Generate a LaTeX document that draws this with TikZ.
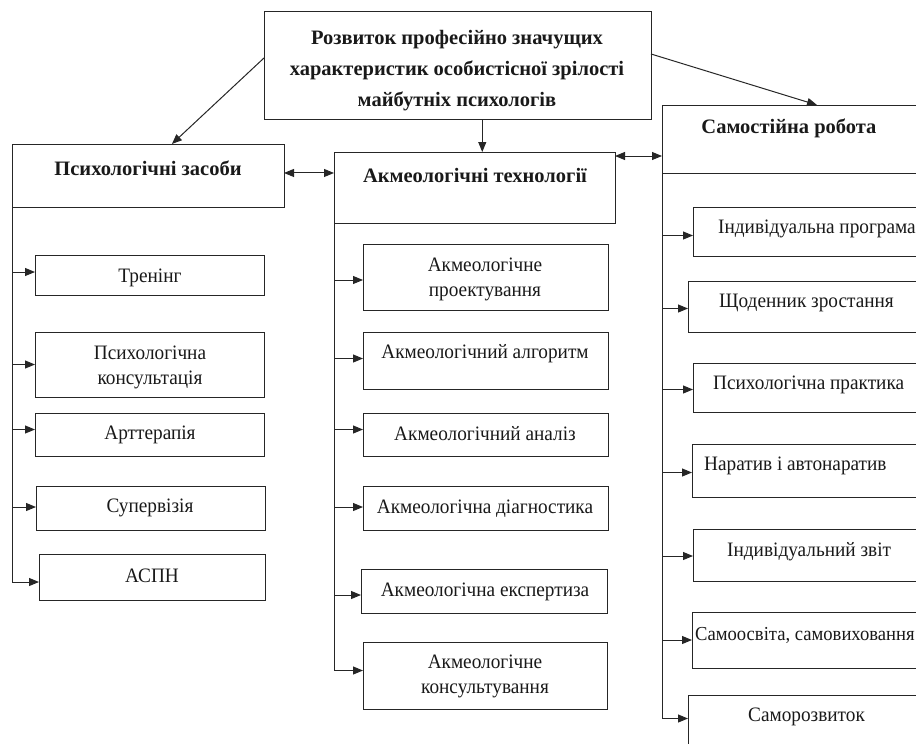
\documentclass[tikz,border=0pt]{standalone}
\usepackage{fontspec}
\setmainfont{Liberation Serif}
\newfontfamily\regfont[FakeStretch=0.94]{Liberation Serif}
\usetikzlibrary{arrows.meta,calc}
\tikzset{
 box/.style={draw=black!85, line width=1pt, rectangle, inner sep=0pt, outer sep=0pt},
 lbl/.style={font=\regfont\fontsize{20.5}{25}\selectfont, inner sep=0pt, align=center, text=black!90, yshift=-2pt},
 blbl/.style={lbl, font=\rmfamily\fontsize{20.5}{31}\selectfont\bfseries},
 rlbl/.style={lbl, anchor=west},
 ln/.style={line width=1pt, draw=black!85},
 arr/.style={ln, -{Triangle[length=10pt,width=8pt]}},
 darr/.style={ln, {Triangle[length=10pt,width=8pt]}-{Triangle[length=10pt,width=8pt]}},
}
\newcommand\rbox[5]{\node[box, minimum width={(#4-#2)*1pt}, minimum height={(#5-#3)*1pt}] (#1) at ({(#2+#4)/2},{(#3+#5)/2}) {};}
\newcommand\brarr[3]{\path ($(#2.west)+(0,#3)$) coordinate (tmp); \draw[arr] (tmp -| #1.west) -- (tmp);}
\begin{document}
\begin{tikzpicture}[x=1pt,y=-1pt]
\useasboundingbox (0,0) rectangle (916,744);
\clip (0,0) rectangle (916,744);
% main boxes
\rbox{top}{264}{11}{651}{119}
\rbox{psy}{12}{144}{284}{207}
\rbox{akm}{334}{152}{615}{223}
\rbox{sam}{662}{105}{955}{173}
% left
\rbox{tr}{35}{255}{264}{295}
\rbox{pk}{35}{332}{264}{397}
\rbox{art}{35}{413}{264}{456}
\rbox{sup}{36}{486}{265}{530}
\rbox{aspn}{39}{554}{265}{600}
% middle
\rbox{ma}{363}{244}{608}{310}
\rbox{mb}{363}{332}{608}{389}
\rbox{mc}{363}{413}{608}{456}
\rbox{md}{363}{486}{608}{530}
\rbox{me}{361}{569}{607}{613}
\rbox{mf}{363}{642}{607}{709}
% right
\rbox{ra}{693}{207}{955}{256}
\rbox{rb}{688}{281}{955}{332}
\rbox{rc}{693}{363}{955}{412}
\rbox{rd}{692}{444}{955}{497}
\rbox{re}{693}{529}{955}{581}
\rbox{rf}{692}{612}{955}{668}
\rbox{rg}{688}{695}{955}{770}
% texts
\node[blbl] (ttop) at (457,69) {Розвиток професійно значущих\\характеристик особистісної зрілості\\майбутніх психологів};
\node[blbl] (tpsy) at (148,166) {Психологічні засоби};
\node[blbl] (takm) at (475,173) {Акмеологічні технології};
\node[blbl] (tsam) at (789,126) {Самостійна робота};
\node[lbl] (ttr) at (150,276) {Тренінг};
\node[lbl] (tpk) at (150,365) {Психологічна\\консультація};
\node[lbl] (tart) at (150,433) {Арттерапія};
\node[lbl] (tsup) at (150,506) {Супервізія};
\node[lbl] (taspn) at (152,574) {АСПН};
\node[lbl] (tma) at (485,277) {Акмеологічне\\проектування};
\node[lbl] (tmb) at (485,352) {Акмеологічний алгоритм};
\node[lbl] (tmc) at (485,432) {Акмеологічний аналіз};
\node[lbl] (tmd) at (485,507) {Акмеологічна діагностика};
\node[lbl] (tme) at (485,590) {Акмеологічна експертиза};
\node[lbl] (tmf) at (485,674) {Акмеологічне\\консультування};
\node[rlbl] (tra) at (718,227) {Індивідуальна програма};
\node[rlbl] (trb) at (719,301) {Щоденник зростання};
\node[rlbl] (trc) at (713,383) {Психологічна практика};
\node[rlbl] (trd) at (704,464) {Наратив і автонаратив};
\node[rlbl] (tre) at (727,550) {Індивідуальний звіт};
\node[rlbl, font=\regfont\fontsize{19.8}{25}\selectfont] (trf) at (695,633) {Самоосвіта, самовиховання};
\node[rlbl] (trg) at (748,715) {Саморозвиток};
% top connectors
\draw[arr] ($(top.north west)!0.435!(top.south west)$) -- ($(psy.north west)!0.588!(psy.north east)$);
\draw[arr] ($(top.south west)!0.564!(top.south east)$) coordinate (t1) -- (t1 |- akm.north);
\draw[arr] ($(top.north east)!0.398!(top.south east)$) -- ($(sam.north west)!0.529!(sam.north east)$);
\draw[darr] ($(psy.north east)!0.46!(psy.south east)$) coordinate (d1) -- (d1 -| akm.west);
\draw[darr] ($(akm.north east)+(0,4)$) coordinate (d2) -- (d2 -| sam.west);
% spines
\draw[ln] (psy.south west) -- ($(psy.south west)+(0,375)$) coordinate (ls);
\draw[ln] (akm.south west) -- ($(akm.south west)+(0,447)$) coordinate (ms);
\draw[ln] (sam.south west) -- ($(sam.south west)+(0,545)$) coordinate (rs);
% branch arrows
\brarr{psy}{tr}{-3}
\brarr{psy}{pk}{0}
\brarr{psy}{art}{-5}
\brarr{psy}{sup}{-1}
\brarr{psy}{aspn}{5}
\brarr{akm}{ma}{3}
\brarr{akm}{mb}{-2}
\brarr{akm}{mc}{-5}
\brarr{akm}{md}{-1}
\brarr{akm}{me}{4}
\brarr{akm}{mf}{-5}
\brarr{sam}{ra}{4}
\brarr{sam}{rb}{2}
\brarr{sam}{rc}{2}
\brarr{sam}{rd}{2}
\brarr{sam}{re}{1}
\brarr{sam}{rf}{0}
\brarr{sam}{rg}{-14}
\end{tikzpicture}
\end{document}
